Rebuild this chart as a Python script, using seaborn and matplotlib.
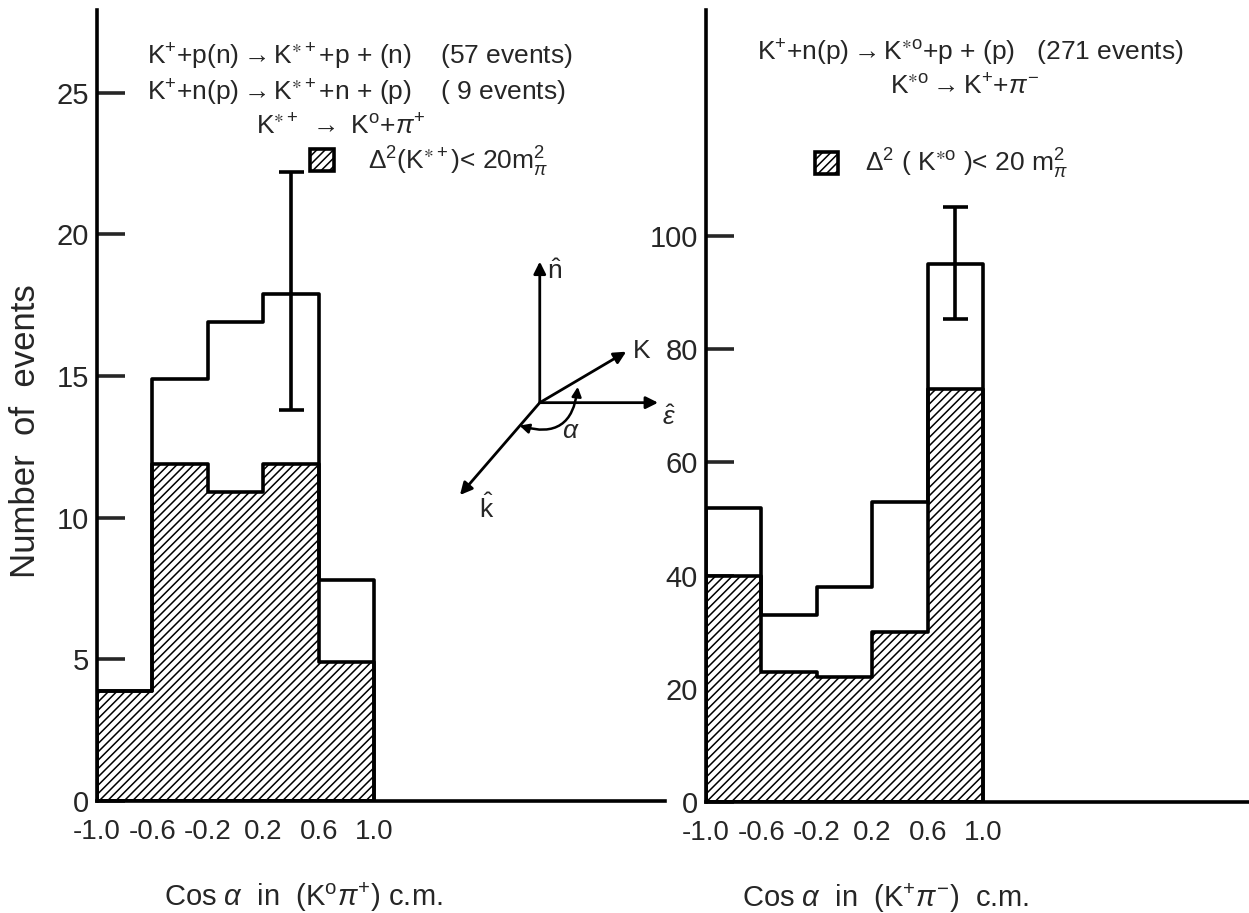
import numpy as np
import pandas as pd
import matplotlib
matplotlib.use("Agg")
import matplotlib.pyplot as plt
import seaborn as sns
from matplotlib.patches import Patch

# ---------------- data ----------------
bin_edges = [-1.0, -0.6, -0.2, 0.2, 0.6, 1.0]
x_tick_labels = ["-1.0", "-0.6", "-0.2", "0.2", "0.6", "1.0"]

left_total = [3.9, 14.9, 16.9, 17.9, 7.8]
left_cut = [3.9, 11.9, 10.9, 11.9, 4.9]
left_err_x = [0.4]
left_err_lo = [13.8]
left_err_hi = [22.2]
left_yticks = [0, 5, 10, 15, 20, 25]

right_total = [52, 33, 38, 53, 95]
right_cut = [40, 23, 22, 30, 73]
right_err_x = [0.8]
right_err_lo = [85.3]
right_err_hi = [105.1]
right_yticks = [0, 20, 40, 60, 80, 100]

# ---------------- style ----------------
sns.set_theme(style="white")
FONT = ["Liberation Sans Narrow", "Liberation Sans", "DejaVu Sans"]
plt.rcParams["font.family"] = FONT
plt.rcParams["mathtext.fontset"] = "custom"
plt.rcParams["mathtext.rm"] = "Liberation Sans"
plt.rcParams["mathtext.it"] = "Liberation Sans:italic"
plt.rcParams["mathtext.bf"] = "Liberation Sans:bold"
plt.rcParams["mathtext.fallback"] = "stixsans"
plt.rcParams["hatch.linewidth"] = 1.1
plt.rcParams["axes.linewidth"] = 2.4

FS = 21        # y tick labels, axis labels
FS_X = 20      # x tick labels
FS_T = 19      # annotation texts
LW = 2.6
HATCH = "////"

fig = plt.figure(figsize=(12.49, 9.13), dpi=100)
axL = fig.add_axes([97 / 1249, 112 / 913, 568 / 1249, 791 / 913])
axR = fig.add_axes([706 / 1249, 111 / 913, 543 / 1249, 792 / 913])

centers = [(a + b) / 2 for a, b in zip(bin_edges[:-1], bin_edges[1:])]


def draw_panel(ax, total, cut, ylim, xlim, yticks, ex, elo, ehi):
    df_cut = pd.DataFrame({"x": centers, "w": cut})
    df_tot = pd.DataFrame({"x": centers, "w": total})
    sns.histplot(data=df_cut, x="x", weights="w", bins=bin_edges, element="step",
                 fill=True, ax=ax, color="black", facecolor="white", edgecolor="black",
                 hatch=HATCH, linewidth=LW)
    sns.histplot(data=df_tot, x="x", weights="w", bins=bin_edges, element="step",
                 fill=True, ax=ax, color="black", facecolor="none", edgecolor="black",
                 linewidth=LW)
    ey = [(a + b) / 2 for a, b in zip(elo, ehi)]
    eh = [(b - a) / 2 for a, b in zip(elo, ehi)]
    ax.errorbar(ex, ey, yerr=eh, fmt="none", ecolor="black", elinewidth=LW,
                capsize=9, capthick=LW)
    ax.set_xlim(*xlim)
    ax.set_ylim(*ylim)
    ax.set_xticks(bin_edges)
    ax.set_xticklabels(x_tick_labels)
    ax.set_yticks(yticks)
    ax.set_yticklabels([str(t) for t in yticks])
    ax.tick_params(axis="y", direction="in", length=20, width=LW, labelsize=FS, pad=6,
                   left=True)
    ax.tick_params(axis="x", direction="in", length=16, width=1.6, labelsize=FS_X, pad=13,
                   bottom=True)
    ax.set_ylabel("")
    ax.set_xlabel("")
    for s in ["top", "right"]:
        ax.spines[s].set_visible(False)
    for s in ["left", "bottom"]:
        ax.spines[s].set_linewidth(LW)
        ax.spines[s].set_color("black")
    ax.patch.set_alpha(0)


draw_panel(axL, left_total, left_cut, (0, 27.92), (-1, 3.10), left_yticks,
           left_err_x, left_err_lo, left_err_hi)
draw_panel(axR, right_total, right_cut, (0, 139.9), (-1, 2.92), right_yticks,
           right_err_x, right_err_lo, right_err_hi)

STAR = r"\ast"

# ---------------- texts, left ----------------
axL.text(-0.64, 26.25, r"K$^{+}$+p(n)$\rightarrow$K$^{" + STAR + r"+}$+p + (n)    (57 events)",
         fontsize=FS_T, va="center", ha="left")
axL.text(-0.64, 25.0, r"K$^{+}$+n(p)$\rightarrow$K$^{" + STAR + r"+}$+n + (p)    ( 9 events)",
         fontsize=FS_T, va="center", ha="left")
axL.text(0.15, 23.8, r"K$^{" + STAR + r"+}$ $\rightarrow$ K$^{\rm o}$+$\pi^{+}$",
         fontsize=FS_T, va="center", ha="left")
hL = Patch(facecolor="white", edgecolor="black", hatch=HATCH, linewidth=LW)
axL.legend(handles=[hL], labels=[r"$\Delta^{2}$(K$^{" + STAR + r"+}$)< 20m$_{\pi}^{2}$"],
           loc="upper left", bbox_to_anchor=(0.375, 0.83), frameon=False,
           fontsize=FS_T, handlelength=0.9, handleheight=0.9, handletextpad=1.3,
           borderpad=0, borderaxespad=0)
axL.set_ylabel("Number  of  events", fontsize=25)
axL.yaxis.set_label_coords(-0.097, 0.468)
axL.set_xlabel(r"Cos $\alpha$  in  (K$^{\rm o}\pi^{+}$) c.m.", fontsize=FS)
axL.xaxis.set_label_coords(0.363, -0.10)

# ---------------- texts, right ----------------
axR.text(-0.63, 132.3, r"K$^{+}$+n(p)$\rightarrow$K$^{" + STAR + r"\rm o}$+p + (p)   (271 events)",
         fontsize=FS_T, va="center", ha="left")
axR.text(0.33, 126.3, r"K$^{" + STAR + r"\rm o}$$\rightarrow$K$^{+}$+$\pi^{-}$",
         fontsize=FS_T, va="center", ha="left")
hR = Patch(facecolor="white", edgecolor="black", hatch=HATCH, linewidth=LW)
axR.legend(handles=[hR], labels=[r"$\Delta^{2}$ ( K$^{" + STAR + r"\rm o}$ )< 20 m$_{\pi}^{2}$"],
           loc="upper left", bbox_to_anchor=(0.2, 0.827), frameon=False,
           fontsize=FS_T, handlelength=0.9, handleheight=0.9, handletextpad=1.0,
           borderpad=0, borderaxespad=0)
axR.set_xlabel(r"Cos $\alpha$  in  (K$^{+}\pi^{-}$)  c.m.", fontsize=FS)
axR.xaxis.set_label_coords(0.33, -0.10)

# ---------------- vector diagram (left panel) ----------------
origin = (2.196, 14.06)
arrow_kw = dict(arrowstyle="-|>", color="black", lw=2.0, mutation_scale=18,
                shrinkA=0, shrinkB=0)
for tip in [(2.196, 19.04), (2.82, 15.86), (3.05, 14.06), (1.62, 10.8)]:
    axL.annotate("", xy=tip, xytext=origin, arrowprops=arrow_kw, annotation_clip=False)
axL.text(2.25, 18.7, r"$\hat{\rm n}$", fontsize=FS_T, ha="left", va="center")
axL.text(2.87, 15.9, "K", fontsize=FS_T, ha="left", va="center")
axL.text(3.08, 13.55, r"$\hat{\epsilon}$", fontsize=FS_T, ha="left", va="center", clip_on=False)
axL.text(1.76, 10.35, r"$\hat{\rm k}$", fontsize=FS_T, ha="left", va="center")
axL.text(2.42, 13.05, r"$\alpha$", fontsize=FS_T, ha="center", va="center")
axL.annotate("", xy=(2.47, 14.62), xytext=(2.05, 13.25),
             arrowprops=dict(arrowstyle="<|-|>", color="black", lw=1.8, mutation_scale=14,
                             shrinkA=0, shrinkB=0, connectionstyle="arc3,rad=0.6"),
             annotation_clip=False)

fig.savefig("out.png", dpi=100, facecolor="white")
